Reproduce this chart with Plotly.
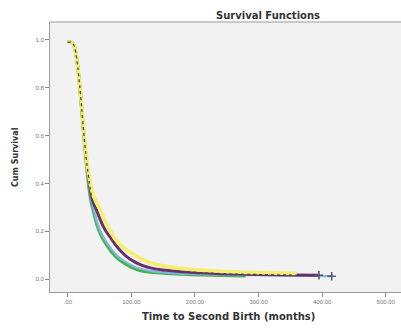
import plotly.graph_objects as go

# Kaplan-Meier estimates of time to second birth, four groups
t_green = [0, 6, 10, 13, 16, 19, 22, 25, 28, 31, 34, 37, 40, 44, 49, 55, 62, 70, 80, 90, 100, 113, 130, 155, 180, 210, 240, 280]
s_green = [0.99, 0.99, 0.975, 0.94, 0.88, 0.80, 0.71, 0.61, 0.52, 0.44, 0.37, 0.32, 0.29, 0.245, 0.205, 0.17, 0.14, 0.11, 0.083, 0.065, 0.05, 0.037, 0.029, 0.024, 0.021, 0.018, 0.016, 0.014]

t_blue = [0, 6, 10, 13, 16, 19, 22, 25, 28, 31, 34, 37, 40, 44, 49, 55, 62, 70, 80, 90, 100, 113, 130, 155, 180, 220, 260, 300, 350, 415]
s_blue = [0.99, 0.99, 0.975, 0.94, 0.88, 0.80, 0.71, 0.61, 0.52, 0.445, 0.38, 0.33, 0.30, 0.255, 0.215, 0.18, 0.15, 0.12, 0.092, 0.073, 0.058, 0.044, 0.034, 0.027, 0.023, 0.02, 0.018, 0.016, 0.014, 0.012]

t_purple = [0, 6, 10, 13, 16, 19, 22, 25, 28, 31, 34, 37, 40, 45, 50, 55, 60, 68, 76, 84, 92, 105, 118, 130, 150, 180, 220, 260, 300, 350, 395]
s_purple = [0.99, 0.99, 0.975, 0.94, 0.88, 0.80, 0.71, 0.615, 0.53, 0.46, 0.40, 0.35, 0.32, 0.29, 0.255, 0.225, 0.20, 0.17, 0.14, 0.115, 0.095, 0.072, 0.056, 0.047, 0.038, 0.031, 0.025, 0.021, 0.019, 0.017, 0.016]

t_yellow = [0, 6, 10, 13, 16, 19, 22, 25, 28, 31, 34, 37, 40, 45, 50, 58, 66, 74, 82, 92, 102, 115, 130, 155, 180, 207, 235, 260, 300, 340, 360]
s_yellow = [0.99, 0.99, 0.975, 0.94, 0.88, 0.80, 0.72, 0.62, 0.54, 0.47, 0.42, 0.38, 0.35, 0.32, 0.295, 0.245, 0.205, 0.17, 0.145, 0.123, 0.105, 0.085, 0.068, 0.052, 0.044, 0.038, 0.033, 0.03, 0.027, 0.025, 0.024]

x_ticks = [0, 100, 200, 300, 400, 500]
x_labels = [".00", "100.00", "200.00", "300.00", "400.00", "500.00"]
y_ticks = [0.0, 0.2, 0.4, 0.6, 0.8, 1.0]
y_labels = ["0.0", "0.2", "0.4", "0.6", "0.8", "1.0"]

fig = go.Figure()

def curve(t, s, color, width, dash="solid"):
    fig.add_trace(go.Scatter(
        x=t, y=s, mode="lines",
        line=dict(color=color, width=width, dash=dash, shape="spline", smoothing=0.7),
        hoverinfo="skip", showlegend=False,
    ))

curve(t_green, s_green, "#3fb54a", 3.4)
curve(t_blue, s_blue, "#86b4e4", 2.2)
curve(t_purple, s_purple, "#6e2a7c", 3.0)
curve(t_yellow, s_yellow, "#f4ee74", 3.8)
# censored-case ticks along the middle curve
curve(t_purple, s_purple, "#4a4a30", 1.3, dash="dot")
# final censored cases
fig.add_trace(go.Scatter(
    x=[t_purple[-1], t_blue[-1]], y=[s_purple[-1], s_blue[-1]],
    mode="markers",
    marker=dict(symbol="cross-thin", size=6, line=dict(color="#555577", width=1.5)),
    hoverinfo="skip", showlegend=False,
))

axis_common = dict(
    showgrid=False, zeroline=False,
    showline=True, linecolor="#9a9a9a", linewidth=1,
    ticks="outside", ticklen=4, tickcolor="#8a8a8a",
    tickfont=dict(family="Liberation Sans", size=6, color="#777777"),
)

fig.update_layout(
    width=401, height=329,
    margin=dict(l=50, r=0, t=22, b=37),
    paper_bgcolor="white",
    plot_bgcolor="#f2f2f2",
    xaxis=dict(range=[-28, 524], tickvals=x_ticks, ticktext=x_labels,
               mirror=False, **axis_common),
    yaxis=dict(range=[-0.054, 1.075], tickvals=y_ticks, ticktext=y_labels,
               **axis_common),
    title=dict(text="<b>Survival Functions</b>", x=268 / 401, xanchor="center",
               y=1 - 15 / 329, yanchor="middle",
               font=dict(family="DejaVu Sans", size=10, color="#333333")),
)

# top border of the plot frame
fig.add_shape(type="line", xref="paper", yref="paper", x0=0, x1=1, y0=1, y1=1,
              line=dict(color="#9a9a9a", width=1))

fig.add_annotation(text="<b>Time to Second Birth (months)</b>", xref="paper", yref="paper",
                   x=(228 - 50) / 351, y=(292 - 316) / 270, xanchor="center", yanchor="middle",
                   showarrow=False, font=dict(family="DejaVu Sans", size=10, color="#333333"))
fig.add_annotation(text="<b>Cum Survival</b>", xref="paper", yref="paper",
                   x=(15 - 50) / 351, y=0.5, xanchor="center", yanchor="middle", textangle=-90,
                   showarrow=False, font=dict(family="DejaVu Sans", size=8, color="#333333"))

fig.write_html("out.html")
